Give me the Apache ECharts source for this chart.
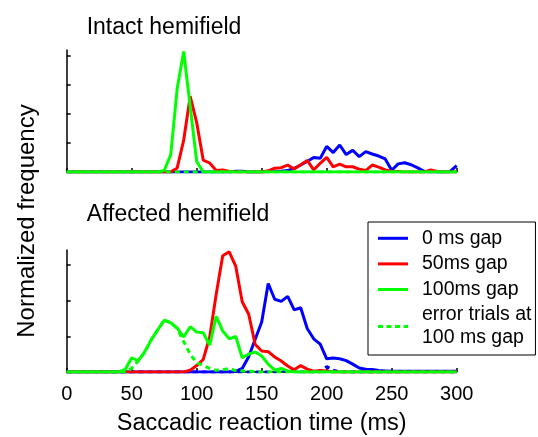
<!DOCTYPE html>
<html><head><meta charset="utf-8">
<script src="https://cdn.jsdelivr.net/npm/echarts@6/dist/echarts.min.js"></script>
<style>html,body{margin:0;padding:0;background:#fff}#c{width:538px;height:437px}</style>
</head><body><div id="c"></div>
<script>
// Reaction-time bins (ms)
const bins = [0,5,10,15,20,25,30,35,40,45,50,55,60,65,70,75,80,85,90,95,100,105,110,115,120,125,130,135,140,145,150,155,160,165,170,175,180,185,190,195,200,205,210,215,220,225,230,235,240,245,250,255,260,265,270,275,280,285,290,295,300];
const xTickValues = [0,50,100,150,200,250,300];
const seriesNames = ['0 ms gap','50ms gap','100ms gap','error trials at 100 ms gap'];

// Intact hemifield
const intact0 = [0,0,0,0,0,0,0,0,0,0,0,0,0,0,0,0,0,0,0,0,0,0,0,0,0,0,
  0.03,0.03,0,0,0,0.02,0.02,0.03,0.05,0.13,0.24,0.36,0.5,0.47,0.88,0.67,0.93,0.6,0.75,0.53,0.7,0.62,0.55,0.45,0.06,0.28,0.32,0.25,0.14,0.02,0,0,0,0.02,0.22];
const intact50 = [0,0,0,0,0,0,0,0,0,0,0,0,0,0,0,0,0,
  0.14,1.1,2.6,1.7,0.41,0.31,0.05,0.07,0.02,0,0,0,0,0,0.04,0.13,0.15,0.24,0.1,0.25,0.4,0.07,0.3,0.5,0.18,0.27,0.18,0.18,0.1,0.05,0.24,0.17,0.07,0.03,0.02,0,0,0,0,0.07,0.02,0,0,0];
const intact100 = [0,0,0,0,0,0,0,0,0,0,0,0,0,0,0,
  0.05,0.59,2.88,4.15,2.25,0.36,
  0,0,0,0,0,0,0,0,0,0,0,0,0,0,0,0,0,0,0,0,0,0,0,0,0,0,0,0,0,0,0,0,0,0,0,0,0,0,0,0];
const intactErr = [0,0,0,0,0,0,0,0,0,0,0,0,0,0,0,0,0,0,0,0,0,0,0,0,0,0,0,0,0,0,0,0,0,0,0,0,0,0,0,0,0,0,0,0,0,0,0,0,0,0,0,0,0,0,0,0,0,0,0,0,0];

// Affected hemifield
const affected0 = [0,0,0,0,0,0,0,0,0,0,0,0,0,0,0,0,0,0,0,0,0,0,0,0,0,0,
  0.02,0.1,0.43,0.92,1.4,2.48,2.04,1.98,2.12,1.74,1.8,1.22,0.93,0.78,0.37,0.39,0.37,0.32,0.22,0.11,0.08,0.07,0.04,0.03,
  0.02,0.02,0.02,0.02,0.02,0.02,0.02,0.02,0.02,0.02,0.02];
const affected50 = [0,0,0,0,0,0,0,0,0,0,0,0,0,0,0,0,0,0,0,
  0.05,0.18,0.35,0.98,2.18,3.26,3.37,2.97,1.97,1.62,0.77,0.59,0.57,0.42,0.31,0.17,0.06,0.18,0.08,0.02,0.04,0.03,
  0,0,0,0,0,0,0,0,0,0,0,0,0,0,0,0,0,0,0,0];
const affected100 = [0,0,0,0,0,0,0,0,0,
  0.07,0.4,0.31,0.57,0.9,1.18,1.45,1.38,1.23,0.98,1.27,1.12,1.1,0.75,1.56,1.15,0.93,1.0,0.4,0.5,0.56,0.45,0.22,0.05,0.1,0.03,
  0,0,0,0,0,0,0,0,0,0,0,0,0,0,0,0,0,0,0,0,0,0,0,0,0,0];
const affectedErr = [0,0,0,0,0,0,0,0,0,0,
  0.1,0.31,0.55,0.9,1.18,1.45,1.38,1.22,0.85,0.5,0.26,0.18,0.1,0.05,0.06,0.1,0.04,0.03,0.02,0.01,
  0,0,0,0,0,0,0,0,0,0,0,0,0,0,0,0,0,0,0,0,0,0,0,0,0,0,0,0,0,0,0];
const affected0Err = [0,0,0,0,0,0,0,0,0,0,0,0,0,0,0,0,0,0,0,0,0,0,0,0,0,0,0,0,0,0,0,0,0,
  0.05,0,0.05,0,0,0,0,0.15,0.05,0,0,0,0,0,0,0,0,0,0,0,0,0,0,0,0,0,0,0];

const pairs = v => bins.map((t, i) => [t, v[i]]);
const BLUE = '#0000ff', RED = '#ff0000', GREEN = '#00ff00';
const LW = 3;

function mk(name, data, color, xi, dashed, z) {
  return {
    name, type: 'line', xAxisIndex: xi, yAxisIndex: xi,
    data: pairs(data), symbol: 'none', smooth: false, z: z,
    color: color,
    lineStyle: { color, width: LW, type: dashed ? [5, 4] : 'solid' },
    emphasis: { disabled: true }
  };
}

const axisLine = { show: true, lineStyle: { color: '#000', width: 1.5 } };
const font = 'Liberation Sans, Arial, sans-serif';

const xAxisBase = (gi, showLabels) => ({
  type: 'value', gridIndex: gi, min: 0, max: 300, interval: 50,
  axisLine, splitLine: { show: false },
  axisTick: { show: true, inside: true, length: 4, lineStyle: { color: '#000', width: 1.5 } },
  axisLabel: { show: showLabels, color: '#000', fontSize: 20, fontFamily: font, margin: 12,
    formatter: v => xTickValues.includes(v) ? String(v) : '' }
});
const yAxisBase = (gi, max) => ({
  type: 'value', gridIndex: gi, min: 0, max: max, interval: 1,
  axisLine, splitLine: { show: false },
  axisTick: { show: true, inside: true, length: 4, customValues: [1, 2, 3, 4].filter(v => v < max),
    lineStyle: { color: '#000', width: 1.5 } },
  axisLabel: { show: false }
});

const solidIcon = 'path://M0,0h30v3h-30z';
const dotIcon = 'path://M0,0h5v3h-5z M8.5,0h5v3h-5z M17,0h5v3h-5z M25.5,0h4.5v3h-4.5z';

const chart = echarts.init(document.getElementById('c'), null, { renderer: 'canvas' });
chart.setOption({
  animation: false,
  backgroundColor: '#fff',
  textStyle: { fontFamily: font },
  title: [
    { text: 'Intact hemifield', left: 159, top: 11, textAlign: 'center',
      textStyle: { fontSize: 23, fontWeight: 'normal', color: '#000', fontFamily: font } },
    { text: 'Affected hemifield', left: 173, top: 198, textAlign: 'center',
      textStyle: { fontSize: 23, fontWeight: 'normal', color: '#000', fontFamily: font } }
  ],
  grid: [
    { left: 66.7, top: 50, width: 390, height: 122 },
    { left: 66.7, top: 250, width: 390, height: 123 }
  ],
  xAxis: [
    xAxisBase(0, false),
    Object.assign(xAxisBase(1, true), {
      name: 'Saccadic reaction time (ms)', nameLocation: 'middle', nameGap: 40,
      nameTextStyle: { fontSize: 23.5, color: '#000', fontFamily: font }
    })
  ],
  yAxis: [yAxisBase(0, 4.2), yAxisBase(1, 3.42)],
  legend: {
    orient: 'vertical', left: 368, top: 222,
    data: [
      { name: seriesNames[0], icon: solidIcon, itemStyle: { color: BLUE } },
      { name: seriesNames[1], icon: solidIcon, itemStyle: { color: RED } },
      { name: seriesNames[2], icon: solidIcon, itemStyle: { color: GREEN } },
      { name: seriesNames[3], icon: dotIcon, itemStyle: { color: GREEN } }
    ],
    itemWidth: 30, itemHeight: 3, itemGap: 3,
    padding: [5, 4, 6, 10],
    borderColor: '#000', borderWidth: 1, backgroundColor: '#fff',
    textStyle: { fontSize: 19.5, color: '#000', lineHeight: 22.6, fontFamily: font, padding: [0, 0, 0, 9] },
    formatter: n => n === seriesNames[3] ? 'error trials at\n100 ms gap' : n,
    selectedMode: false
  },
  graphic: [{
    type: 'text', x: 27, y: 221, rotation: Math.PI / 2,
    style: { text: 'Normalized frequency', fontSize: 24, fontFamily: font, fill: '#000',
      align: 'center', verticalAlign: 'middle' }
  }],
  series: [
    mk(seriesNames[0], intact0, BLUE, 0, false, 2),
    mk(seriesNames[1], intact50, RED, 0, false, 3),
    mk(seriesNames[2], intact100, GREEN, 0, false, 4),
    mk(seriesNames[3], intactErr, GREEN, 0, true, 5),
    mk(seriesNames[0], affected0, BLUE, 1, false, 2),
    mk(seriesNames[1], affected50, RED, 1, false, 3),
    mk(seriesNames[2], affected100, GREEN, 1, false, 4),
    mk(seriesNames[3], affectedErr, GREEN, 1, true, 5),
    mk('0 ms gap error trials', affected0Err, BLUE, 1, true, 1)
  ]
});
</script></body></html>
